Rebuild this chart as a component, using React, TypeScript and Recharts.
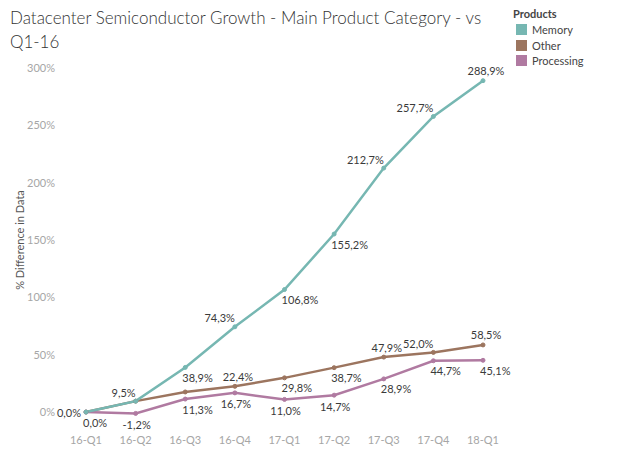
import React from 'react'
import { LineChart, Line, XAxis, YAxis, LabelList } from 'recharts'

const quarters = ['16-Q1', '16-Q2', '16-Q3', '16-Q4', '17-Q1', '17-Q2', '17-Q3', '17-Q4', '18-Q1']
const memory = [0.0, 9.5, 38.9, 74.3, 106.8, 155.2, 212.7, 257.7, 288.9]
const other = [0.0, 9.5, 17.5, 22.4, 29.8, 38.7, 47.9, 52.0, 58.5]
const processing = [0.0, -1.2, 11.3, 16.7, 11.0, 14.7, 28.9, 44.7, 45.1]
const yTicks = [0, 50, 100, 150, 200, 250, 300]

// where each point's label sits: l = left, t = top, b = below, tl = above-left, br = below-right
const memorySides = ['l', 'tl', 'br', 'tl', 'br', 'br', 'tl', 'tl', 't']
const otherSides = ['', '', '', 't', 'br', 'br', 't', 'tl', 't']
const processingSides = ['br', 'b', 'br', 'b', 'b', 'b', 'br', 'br', 'br']

const series = [
  { key: 'Memory', values: memory, sides: memorySides, color: '#76B7B2' },
  { key: 'Other', values: other, sides: otherSides, color: '#9C755F' },
  { key: 'Processing', values: processing, sides: processingSides, color: '#B07AA1' },
]

const data = quarters.map((q, i) => ({
  quarter: q,
  Memory: memory[i],
  Other: other[i],
  Processing: processing[i],
}))

const font = 'Lato, "Open Sans", sans-serif'

const fmt = (v: number) => v.toFixed(1).replace('.', ',') + '%'

const sideOffset: Record<string, { dx: number; dy: number; anchor: string }> = {
  l: { dx: -5, dy: 0, anchor: 'end' },
  t: { dx: 3, dy: -10, anchor: 'middle' },
  b: { dx: 1, dy: 11, anchor: 'middle' },
  tl: { dx: 0, dy: -9, anchor: 'end' },
  br: { dx: -3, dy: 10, anchor: 'start' },
}

function makeLabel(sides: string[]) {
  return (props: any) => {
    const { x, y, value, index } = props
    const s = sideOffset[sides[index]]
    if (!s) return null
    return (
      <text
        x={x + s.dx}
        y={y + s.dy}
        textAnchor={s.anchor}
        dominantBaseline="central"
        fontSize={11}
        fill="#3a3a3a"
        fontFamily={font}
      >
        {fmt(value)}
      </text>
    )
  }
}

export default function App() {
  return (
    <div style={{ position: 'absolute', left: 0, top: 0, width: 640, height: 454, background: '#fff', fontFamily: font }}>
      <div style={{ position: 'absolute', left: 10, top: 6, fontSize: 17, fontWeight: 300, lineHeight: '24px', color: '#333' }}>
        Datacenter Semiconductor Growth - Main Product Category - vs
        <br />
        Q1-16
      </div>
      <div style={{ position: 'absolute', left: 513, top: 7, fontSize: 11, color: '#444' }}>
        <div style={{ fontWeight: 'bold', marginBottom: 2 }}>Products</div>
        {series.map((s) => (
          <div key={s.key} style={{ display: 'flex', alignItems: 'center', height: 15.5 }}>
            <span style={{ width: 11, height: 11, background: s.color, marginLeft: 3, marginRight: 5 }} />
            <span>{s.key}</span>
          </div>
        ))}
      </div>
      <LineChart width={640} height={454} data={data} margin={{ top: 56.5, right: 157, bottom: 0, left: 0 }}>
        <XAxis
          dataKey="quarter"
          axisLine={false}
          tickLine={false}
          tickSize={0}
          tickMargin={13}
          height={30.5}
          tick={{ fontSize: 11, fill: '#a6a6a6', fontFamily: font }}
        />
        <YAxis
          width={86}
          domain={[-10, 310]}
          ticks={yTicks}
          axisLine={false}
          tickLine={false}
          tickSize={0}
          tickMargin={31}
          tickFormatter={(v) => `${v}%`}
          tick={{ fontSize: 11, fill: '#a6a6a6', fontFamily: font }}
          label={{
            value: '% Difference in Data',
            angle: -90,
            position: 'insideLeft',
            offset: 20,
            style: { textAnchor: 'middle', fontSize: 11, fill: '#555', fontFamily: font },
          }}
        />
        {[series[1], series[2], series[0]].map((s) => (
          <Line
            key={s.key}
            type="linear"
            dataKey={s.key}
            stroke={s.color}
            strokeWidth={2.5}
            dot={{ r: 2, fill: s.color, stroke: s.color, strokeWidth: 1 }}
            activeDot={false}
            isAnimationActive={false}
          >
            <LabelList dataKey={s.key} content={makeLabel(s.sides)} />
          </Line>
        ))}
      </LineChart>
    </div>
  )
}
